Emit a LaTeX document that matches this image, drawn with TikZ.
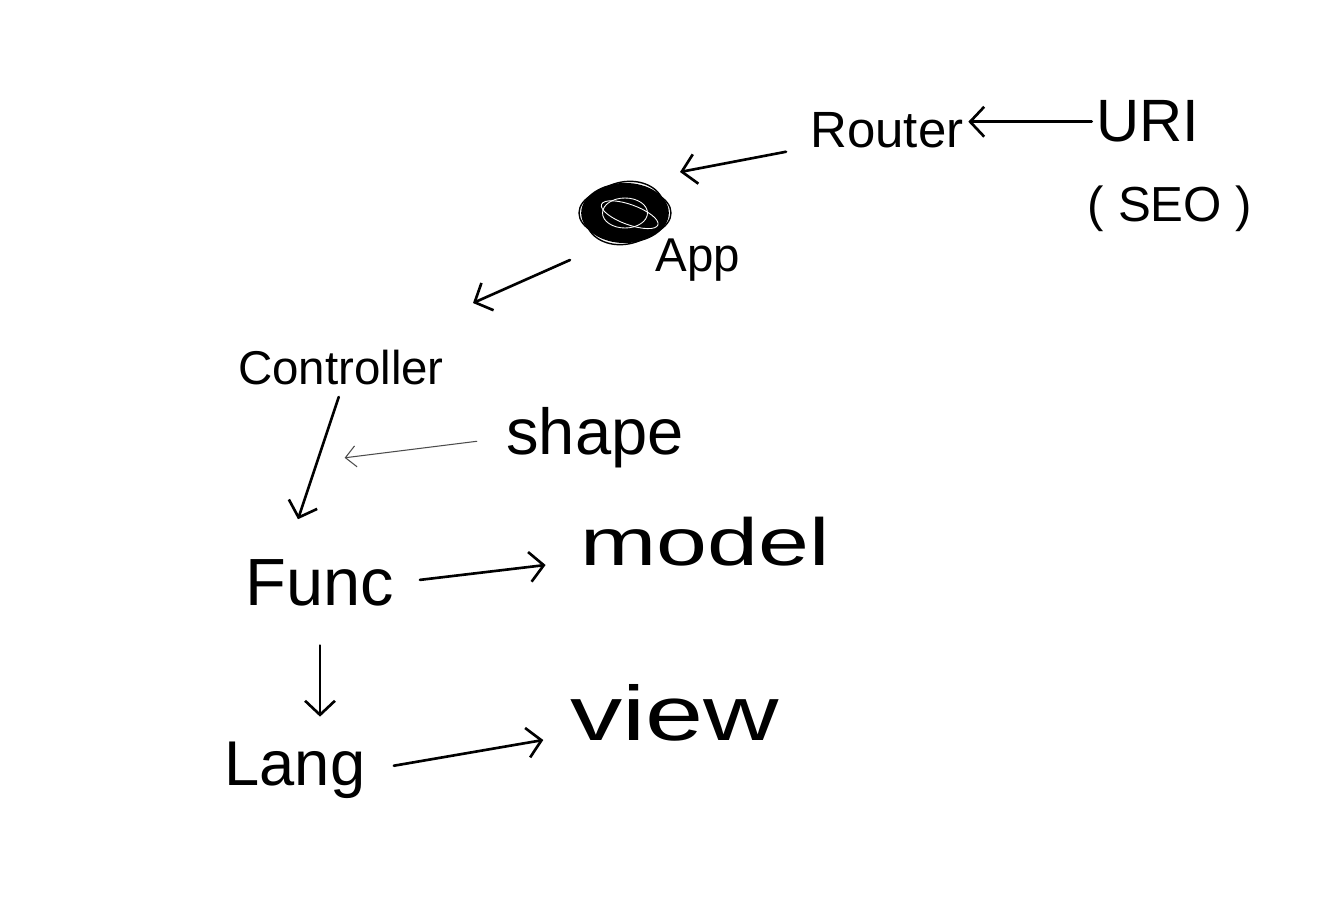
\documentclass[tikz,border=0pt]{standalone}
\usepackage{fontspec}
\setmainfont{Liberation Sans}
\usetikzlibrary{arrows.meta,shapes.geometric}
\tikzset{
	word/.style     = {inner sep=2pt, anchor=base},
	blob/.style     = {draw, ellipse, fill=black, minimum width=1.7cm,
		minimum height=1.15cm},
	pen/.style      = {line width=1.5pt, line cap=round, line join=round},
	thinpen/.style  = {line width=0.6pt, black!70}
}
\newcommand{\fsz}[1]{\fontsize{#1}{#1}\selectfont}

\begin{document}
\begin{tikzpicture}[pen, >={Straight Barb[length=8pt,width=17pt]}]
	\useasboundingbox (0,0) rectangle (26.78,-18.28);

	\draw
	node at (17.74,-2.96) [word] (router) {\fsz{29pt}Router}
	node at (22.96,-2.84) [word] (uri) {\fsz{34pt}URI}
	node at (23.4,-4.44) [word] (seo) {\fsz{28pt}( SEO )}
	node at (12.5,-4.26) [blob] (app) {}
	node at (13.96,-5.44) [word] (applabel) {\fsz{27pt}App}
	node at (6.82,-7.7) [word] (controller) {\fsz{27pt}Controller}
	node at (11.9,-9.1) [word] (shape) {\fsz{37pt}shape}
	node at (6.4,-12.1) [word] (func) {\fsz{38pt}Func}
	node at (14.1,-11.3) [word] (model) {\fsz{38pt}\scalebox{1.37}[1]{model}}
	node at (5.9,-15.7) [word] (lang) {\fsz{36pt}Lang}
	node at (13.5,-14.8) [word] (view) {\fsz{44pt}\scalebox{1.35}[1]{view}};

	% scribbles on the app blob
	\draw[line width=0.8pt] (app.center) ellipse [x radius=0.92cm, y radius=0.52cm];
	\draw[line width=0.8pt, rotate around={15:(app.center)}] (app.center) ellipse [x radius=0.8cm, y radius=0.62cm];
	\draw[white, line width=0.5pt] (app.center) ellipse [x radius=0.45cm, y radius=0.3cm];
	\draw[white, line width=0.5pt, rotate around={-20:(app.center)}] ([xshift=0.1cm]app.center) ellipse [x radius=0.6cm, y radius=0.2cm];

	\draw[->](uri.west)--(uri.west -| router.east);
	\draw[->, shorten <=0.4cm](router.base west)--([shift={(1.1,0.82)}]app.center);
	\draw[->]([shift={(-1.1,-0.94)}]app.center)--([shift={(2.64,1.3)}]controller.center);
	\draw[->, shorten <=4pt](controller.south)-- coordinate[pos=0.55] (mid) ([shift={(-0.44,0.7)}]func.north);
	\draw[->, thinpen, >={Straight Barb[length=6pt,width=12pt]}, shorten <=0.5cm, shorten >=0.55cm](shape.west)--(mid);
	\draw[->, shorten <=0.42cm](func.east)--([xshift=-0.6cm]model.base west);
	\draw[->, shorten <=0.7cm, shorten >=0.4cm](func.south)--(func.south |- lang.north);
	\draw[->, shorten <=0.48cm](lang.east)--([xshift=-0.45cm]view.base west);
\end{tikzpicture}
\end{document}
